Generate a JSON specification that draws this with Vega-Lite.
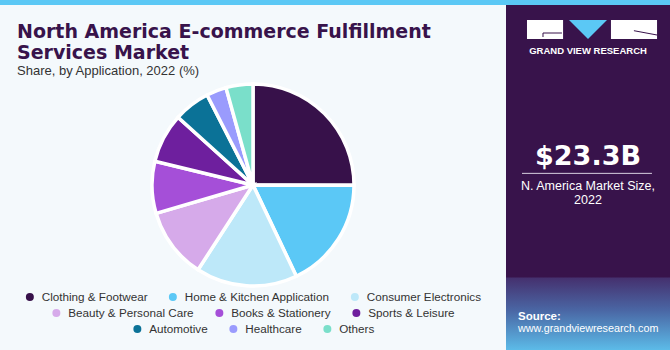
{
  "$schema": "https://vega.github.io/schema/vega-lite/v6.json",
  "background": "#f4f9fc",
  "padding": 0,
  "datasets": {
    "shares": [
      {"application": "Clothing & Footwear", "share": 25.0},
      {"application": "Home & Kitchen Application", "share": 17.9},
      {"application": "Consumer Electronics", "share": 16.2},
      {"application": "Beauty & Personal Care", "share": 11.3},
      {"application": "Books & Stationery", "share": 8.3},
      {"application": "Sports & Leisure", "share": 7.9},
      {"application": "Automotive", "share": 5.8},
      {"application": "Healthcare", "share": 3.2},
      {"application": "Others", "share": 4.3}
    ]
  },
  "spacing": 0,
  "hconcat": [
    {
      "spacing": 18,
      "vconcat": [
        {
          "width": 506, "height": 5,
          "view": {"fill": "#5bc8f5", "stroke": null},
          "data": {"values": []},
          "mark": "point",
          "encoding": {}
        },
        {
          "width": 506, "height": 202,
          "title": {
            "text": ["North America E-commerce Fulfillment", "Services Market"],
            "subtitle": "Share, by Application, 2022 (%)",
            "anchor": "start", "frame": "group", "dx": 17, "offset": -1,
            "font": "DejaVu Sans", "fontSize": 19, "fontWeight": "bold", "color": "#38134b", "lineHeight": 21,
            "subtitleFont": "Liberation Sans", "subtitleFontSize": 13, "subtitleColor": "#333333", "subtitlePadding": 2
          },
          "data": {"name": "shares"},
          "transform": [{"window": [{"op": "row_number", "as": "idx"}]}],
          "layer": [
            {
              "mark": {"type": "arc", "stroke": "#ffffff", "strokeWidth": 3.5},
              "encoding": {
                "theta": {"field": "share", "type": "quantitative", "stack": true},
                "order": {"field": "idx", "type": "quantitative"},
                "color": {
                  "field": "application", "type": "nominal",
                  "scale": {
                    "domain": ["Clothing & Footwear", "Home & Kitchen Application", "Consumer Electronics", "Beauty & Personal Care", "Books & Stationery", "Sports & Leisure", "Automotive", "Healthcare", "Others"],
                    "range": ["#37114a", "#5bc8f6", "#bde8f9", "#d6aaea", "#a54fd8", "#6e1f9e", "#0b7297", "#9a9bfd", "#7adfca"]
                  },
                  "legend": null
                }
              }
            },
            {
              "transform": [{"filter": {"field": "application", "oneOf": ["Clothing & Footwear", "Home & Kitchen Application", "Consumer Electronics"]}}],
              "mark": {"type": "circle", "opacity": 0},
              "encoding": {
                "color": {
                  "field": "application", "type": "nominal",
                  "sort": ["Clothing & Footwear", "Home & Kitchen Application", "Consumer Electronics"],
                  "scale": {"domain": ["Clothing & Footwear", "Home & Kitchen Application", "Consumer Electronics"], "range": ["#37114a", "#5bc8f6", "#bde8f9"]},
                  "legend": {"title": null}
                }
              }
            },
            {
              "transform": [{"filter": {"field": "application", "oneOf": ["Beauty & Personal Care", "Books & Stationery", "Sports & Leisure"]}}],
              "mark": {"type": "circle", "opacity": 0},
              "encoding": {
                "color": {
                  "field": "application", "type": "nominal",
                  "sort": ["Beauty & Personal Care", "Books & Stationery", "Sports & Leisure"],
                  "scale": {"domain": ["Beauty & Personal Care", "Books & Stationery", "Sports & Leisure"], "range": ["#d6aaea", "#a54fd8", "#6e1f9e"]},
                  "legend": {"title": null}
                }
              }
            },
            {
              "transform": [{"filter": {"field": "application", "oneOf": ["Automotive", "Healthcare", "Others"]}}],
              "mark": {"type": "circle", "opacity": 0},
              "encoding": {
                "color": {
                  "field": "application", "type": "nominal",
                  "sort": ["Automotive", "Healthcare", "Others"],
                  "scale": {"domain": ["Automotive", "Healthcare", "Others"], "range": ["#0b7297", "#9a9bfd", "#7adfca"]},
                  "legend": {"title": null}
                }
              }
            }
          ],
          "resolve": {"scale": {"color": "independent"}, "legend": {"color": "independent"}}
        }
      ]
    },
    {
      "spacing": 0,
      "vconcat": [
        {
          "width": 164, "height": 5,
          "view": {"fill": "#5bc8f5", "stroke": null},
          "data": {"values": []},
          "mark": "point",
          "encoding": {}
        },
        {
          "width": 164, "height": 345,
          "view": {"fill": "#38134b", "stroke": null},
          "data": {"values": [{}]},
          "encoding": {
            "x": {"datum": 0.5, "type": "quantitative", "scale": {"domain": [0, 1], "nice": false}, "axis": null},
            "y": {"datum": 0.5, "type": "quantitative", "scale": {"domain": [0, 1], "nice": false, "reverse": true}, "axis": null}
          },
          "layer": [
            {
              "mark": {"type": "rect", "color": {"gradient": "linear", "x1": 0, "y1": 0, "x2": 0, "y2": 1, "stops": [{"offset": 0, "color": "#45306e"}, {"offset": 0.45, "color": "#4a66a4"}, {"offset": 1, "color": "#5cbbe8"}]}},
              "encoding": {"x": {"datum": 0, "type": "quantitative"}, "x2": {"datum": 1}, "y": {"datum": 0.79, "type": "quantitative"}, "y2": {"datum": 1}}
            },
            {
              "mark": {"type": "rect", "color": "#ffffff"},
              "encoding": {"x": {"datum": 0.128, "type": "quantitative"}, "x2": {"datum": 0.348}, "y": {"datum": 0.0435, "type": "quantitative"}, "y2": {"datum": 0.0986}}
            },
            {
              "mark": {"type": "rect", "color": "#ffffff"},
              "encoding": {"x": {"datum": 0.64, "type": "quantitative"}, "x2": {"datum": 0.921}, "y": {"datum": 0.0435, "type": "quantitative"}, "y2": {"datum": 0.0986}}
            },
            {
              "mark": {"type": "rule", "color": "#38134b", "strokeWidth": 1},
              "encoding": {"x": {"datum": 0.2256, "type": "quantitative"}, "x2": {"datum": 0.341}, "y": {"datum": 0.0812, "type": "quantitative"}, "y2": {"datum": 0.0812}}
            },
            {
              "mark": {"type": "rule", "color": "#38134b", "strokeWidth": 1},
              "encoding": {"x": {"datum": 0.2256, "type": "quantitative"}, "x2": {"datum": 0.2256}, "y": {"datum": 0.0812, "type": "quantitative"}, "y2": {"datum": 0.0928}}
            },
            {
              "mark": {"type": "rule", "color": "#38134b", "strokeWidth": 1},
              "encoding": {"x": {"datum": 0.78, "type": "quantitative"}, "x2": {"datum": 0.921}, "y": {"datum": 0.0745, "type": "quantitative"}, "y2": {"datum": 0.087}}
            },
            {
              "mark": {"type": "point", "shape": "M-1,-0.5L1,-0.5L0,0.5Z", "filled": true, "color": "#5bc8f5", "opacity": 1, "size": 1444},
              "encoding": {"x": {"datum": 0.5, "type": "quantitative"}, "y": {"datum": 0.071, "type": "quantitative"}}
            },
            {
              "mark": {"type": "text", "text": "GRAND VIEW RESEARCH", "font": "Liberation Sans", "fontWeight": "bold", "fontSize": 9.5, "color": "#ffffff", "align": "center", "baseline": "alphabetic"},
              "encoding": {"x": {"datum": 0.5, "type": "quantitative"}, "y": {"datum": 0.142, "type": "quantitative"}}
            },
            {
              "mark": {"type": "text", "text": "$23.3B", "font": "DejaVu Sans", "fontWeight": "bold", "fontSize": 27, "color": "#ffffff", "align": "center", "baseline": "alphabetic"},
              "encoding": {"x": {"datum": 0.5, "type": "quantitative"}, "y": {"datum": 0.4638, "type": "quantitative"}}
            },
            {
              "mark": {"type": "rule", "color": "#d8d0e0", "strokeWidth": 1},
              "encoding": {"x": {"datum": 0.0976, "type": "quantitative"}, "x2": {"datum": 0.89}, "y": {"datum": 0.488, "type": "quantitative"}}
            },
            {
              "mark": {"type": "text", "text": "N. America Market Size,", "font": "Liberation Sans", "fontSize": 12.5, "color": "#ffffff", "align": "center", "baseline": "alphabetic"},
              "encoding": {"x": {"datum": 0.5, "type": "quantitative"}, "y": {"datum": 0.536, "type": "quantitative"}}
            },
            {
              "mark": {"type": "text", "text": "2022", "font": "Liberation Sans", "fontSize": 12.5, "color": "#ffffff", "align": "center", "baseline": "alphabetic"},
              "encoding": {"x": {"datum": 0.5, "type": "quantitative"}, "y": {"datum": 0.577, "type": "quantitative"}}
            },
            {
              "mark": {"type": "text", "text": "Source:", "font": "Liberation Sans", "fontWeight": "bold", "fontSize": 11.5, "color": "#ffffff", "align": "left", "baseline": "alphabetic"},
              "encoding": {"x": {"datum": 0.073, "type": "quantitative"}, "y": {"datum": 0.913, "type": "quantitative"}}
            },
            {
              "mark": {"type": "text", "text": "www.grandviewresearch.com", "font": "Liberation Sans", "fontSize": 10.8, "color": "#ffffff", "align": "left", "baseline": "alphabetic"},
              "encoding": {"x": {"datum": 0.073, "type": "quantitative"}, "y": {"datum": 0.948, "type": "quantitative"}}
            }
          ]
        }
      ]
    }
  ],
  "config": {
    "view": {"stroke": null},
    "concat": {"spacing": 0},
    "legend": {
      "orient": "bottom",
      "direction": "horizontal",
      "layout": {"bottom": {"anchor": "middle", "direction": "vertical", "center": true, "margin": 3}},
      "labelFont": "Liberation Sans",
      "labelFontSize": 11.7,
      "labelColor": "#333333",
      "symbolType": "circle",
      "symbolSize": 64,
      "symbolStrokeWidth": 0,
      "symbolOpacity": 1,
      "columnPadding": 19,
      "labelOffset": 6,
      "offset": 5,
      "padding": 0
    }
  }
}
